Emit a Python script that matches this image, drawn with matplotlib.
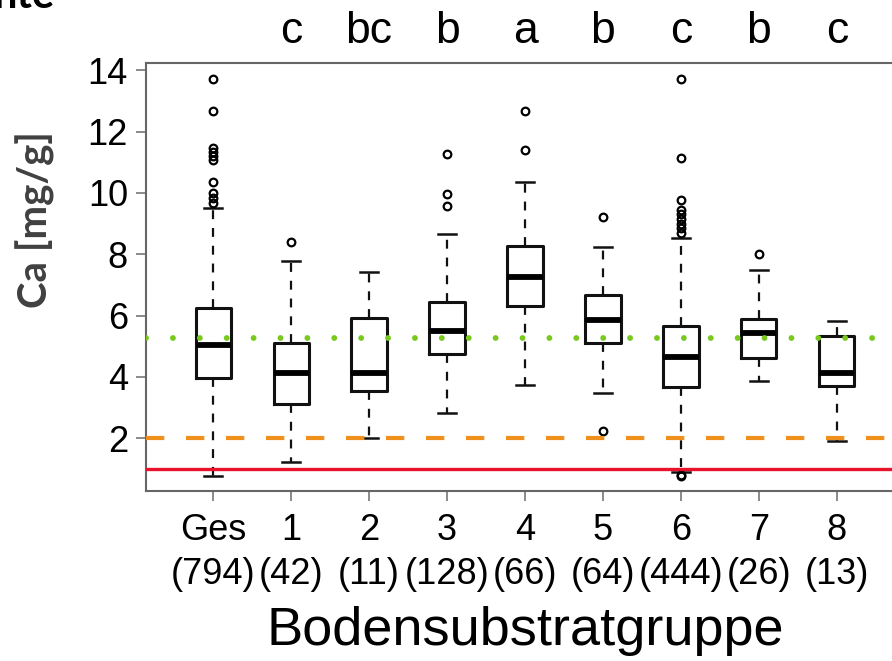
import matplotlib
matplotlib.use('Agg')
import matplotlib.pyplot as plt
import matplotlib.transforms as mtransforms

# Ca content per soil substrate group
groups = ['Ges', '1', '2', '3', '4', '5', '6', '7', '8']
counts = [794, 42, 11, 128, 66, 64, 444, 26, 13]
letters = ['', 'c', 'bc', 'b', 'a', 'b', 'c', 'b', 'c']

whislo = [0.77, 1.22, 2.02, 2.83, 3.74, 3.47, 0.91, 3.87, 1.92]
q1     = [3.96, 3.11, 3.55, 4.74, 6.31, 5.10, 3.66, 4.61, 3.71]
med    = [5.04, 4.12, 4.12, 5.49, 7.27, 5.86, 4.64, 5.42, 4.14]
q3     = [6.24, 5.10, 5.92, 6.45, 8.28, 6.67, 5.66, 5.89, 5.34]
whishi = [9.52, 7.79, 7.41, 8.66, 10.35, 8.23, 8.54, 7.49, 5.82]
fliers = [
    [13.71, 12.68, 11.47, 11.34, 11.2, 11.07, 10.37, 9.99, 9.84, 9.66],
    [8.41],
    [],
    [11.27, 9.97, 9.58],
    [12.68, 11.40],
    [9.21, 2.25],
    [13.71, 11.13, 9.77, 9.44, 9.3, 9.15, 9.0, 8.85, 8.7, 0.77, 0.8],
    [8.01],
    [],
]

# reference lines
red_level = 1.0
orange_level = 2.0
green_level = 5.28

plt.rcParams['font.family'] = ['Liberation Sans', 'DejaVu Sans']

fig = plt.figure(figsize=(8.92, 6.61), dpi=100)
ax = fig.add_axes([146/892, 1 - 490.7/661, (904 - 146)/892, 427.4/661])

stats = []
for i in range(len(groups)):
    stats.append(dict(label=groups[i], med=med[i], q1=q1[i], q3=q3[i],
                      whislo=whislo[i], whishi=whishi[i], fliers=fliers[i]))

pos = list(range(1, len(groups) + 1))
ax.bxp(stats, positions=pos, widths=0.45, capwidths=0.23,
       boxprops=dict(lw=2.2, color='#111111'),
       medianprops=dict(lw=4.2, color='black', solid_capstyle='butt'),
       whiskerprops=dict(lw=1.6, color='#111111', linestyle=(0, (4, 4))),
       capprops=dict(lw=1.8, color='#111111'),
       flierprops=dict(marker='o', mfc='none', mec='black', ms=5.5, mew=1.6))

ax.axhline(red_level, color='#e8132b', lw=2.4, zorder=5)
ax.axhline(orange_level, color='#f0901c', lw=3.0, linestyle=(0, (4.4, 5.2)), zorder=5)
ax.axhline(green_level, color='#78c81e', lw=4.2, linestyle=(0, (0.01, 4.6)),
           dash_capstyle='round', zorder=5)

ax.set_xlim(0.14, 9.86)
ax.set_ylim(0.29, 14.23)
ax.set_yticks([2, 4, 6, 8, 10, 12, 14])
ax.set_xticks(pos)
ax.set_xticklabels(['%s\n(%d)' % (g, n) for g, n in zip(groups, counts)],
                   fontsize=26, linespacing=1.33)
ax.tick_params(axis='y', labelsize=26, length=7, width=1.2, color='#777777', pad=6)
ax.tick_params(axis='x', length=7, width=1.2, color='#777777', pad=9)
for s in ax.spines.values():
    s.set_color('#666666')
    s.set_linewidth(1.5)

trans = mtransforms.blended_transform_factory(ax.transData, ax.transAxes)
for p, l in zip(pos, letters):
    if l:
        ax.text(p, 1.047, l, transform=trans, ha='center', va='baseline', fontsize=32)

ax.set_xlabel('Bodensubstratgruppe', fontsize=39, labelpad=10)
fig.text(35/892, 1 - 220/661, 'Ca [mg/g]', rotation=90, ha='center', va='center',
         fontsize=29, fontweight='bold', color='#404040', family=['Lato', 'DejaVu Sans'])
fig.text(55/892, 1 - 8/661, 'nte', ha='right', va='baseline', fontsize=30,
         fontweight='bold', color='black', family=['Lato', 'DejaVu Sans'])

fig.savefig('out.png', dpi=100)
